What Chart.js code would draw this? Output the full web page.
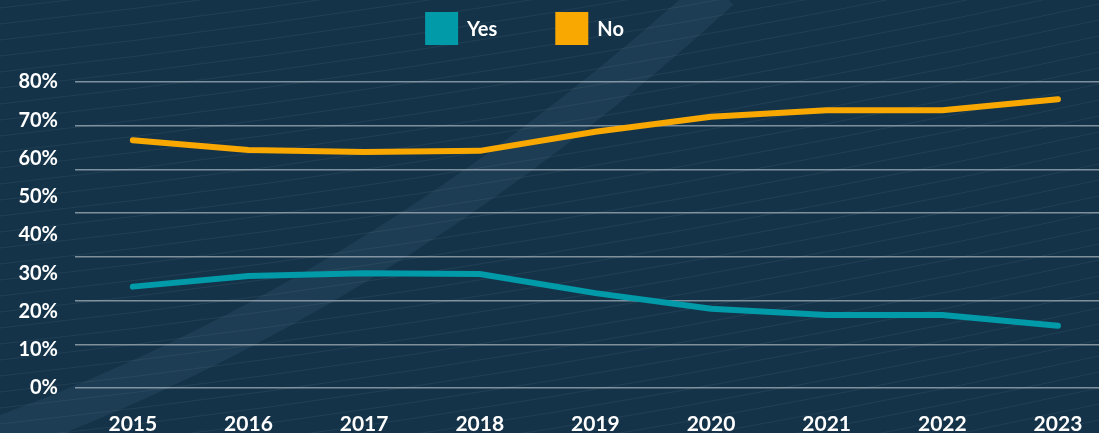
<!DOCTYPE html>
<html lang="en">
<head>
    <meta charset="UTF-8" />
    <title>Yes / No trend</title>
    <script src="https://cdn.jsdelivr.net/npm/chart.js"></script>
    <style>
        html, body { margin: 0; padding: 0; background: #143349; }
        .wrap { width: 1099px; height: 433px; }
    </style>
</head>
<body>

<div class="wrap">
    <canvas id="trend"></canvas>
</div>

<script>
// data
const years = [2015, 2016, 2017, 2018, 2019, 2020, 2021, 2022, 2023];
const yesValues = [26.5, 29.3, 30.0, 29.8, 24.8, 20.7, 19.1, 19.1, 16.3];
const noValues = [64.8, 62.2, 61.7, 62.0, 67.0, 70.9, 72.6, 72.6, 75.5];
const yTicks = [0, 10, 20, 30, 40, 50, 60, 70, 80];

const TEAL = "#009aa8";
const ORANGE = "#f8a800";
const FONT = "Lato, 'Open Sans', sans-serif";

// navy backdrop with a few faint mesh lines
const backdrop = {
    id: "backdrop",
    beforeDraw(chart) {
        const ctx = chart.ctx;
        const w = chart.width, h = chart.height;
        ctx.save();
        ctx.fillStyle = "#143349";
        ctx.fillRect(0, 0, w, h);

        ctx.strokeStyle = "rgba(255,255,255,0.06)";
        ctx.lineWidth = 1;
        for (let i = -20; i < 40; i++) {
            ctx.beginPath();
            ctx.moveTo(0, i * 16 + 40);
            ctx.quadraticCurveTo(w * 0.5, i * 16 - 20, w, i * 16 - 140);
            ctx.stroke();
        }

        // light diagonal band
        ctx.strokeStyle = "rgba(110,150,175,0.11)";
        ctx.lineWidth = 40;
        ctx.beginPath();
        ctx.moveTo(-10, 440);
        ctx.quadraticCurveTo(380, 300, 720, -10);
        ctx.stroke();
        ctx.restore();
    }
};

// square legend boxes at the top
const squareLegend = {
    id: "squareLegend",
    afterDraw(chart) {
        const ctx = chart.ctx;
        const box = 33, gap = 9, spacing = 58, top = 12;
        ctx.save();
        ctx.font = "bold 20px " + FONT;
        ctx.textBaseline = "middle";
        const sets = chart.data.datasets;
        const widths = sets.map(d => box + gap + ctx.measureText(d.label).width);
        const total = widths.reduce((a, b) => a + b, 0) + spacing * (sets.length - 1);
        let x = chart.width / 2 - 25 - total / 2;
        sets.forEach((d, i) => {
            ctx.fillStyle = d.borderColor;
            ctx.fillRect(x, top, box, box);
            ctx.fillStyle = "#ffffff";
            ctx.fillText(d.label, x + box + gap, top + box / 2 + 1);
            x += widths[i] + spacing;
        });
        ctx.restore();
    }
};

new Chart(document.getElementById("trend"), {
    type: "line",
    data: {
        datasets: [
            {
                label: "Yes",
                data: years.map((y, i) => ({ x: y, y: yesValues[i] })),
                borderColor: TEAL,
                backgroundColor: TEAL,
                borderWidth: 6,
                borderCapStyle: "round",
                borderJoinStyle: "round",
                pointRadius: 0,
                tension: 0
            },
            {
                label: "No",
                data: years.map((y, i) => ({ x: y, y: noValues[i] })),
                borderColor: ORANGE,
                backgroundColor: ORANGE,
                borderWidth: 6,
                borderCapStyle: "round",
                borderJoinStyle: "round",
                pointRadius: 0,
                tension: 0
            }
        ]
    },
    options: {
        responsive: true,
        maintainAspectRatio: false,
        animation: false,
        layout: { padding: { top: 82, left: 0, right: 0, bottom: 0 } },
        plugins: {
            legend: { display: false },
            tooltip: { enabled: false }
        },
        scales: {
            x: {
                type: "linear",
                min: 2014.5,
                max: 2023.355,
                grid: { display: false },
                border: { display: false },
                afterFit: s => { s.height = 45; },
                ticks: {
                    stepSize: 1,
                    includeBounds: false,
                    padding: 16,
                    color: "#ffffff",
                    font: { family: FONT, size: 21, weight: "bold" },
                    callback: v => String(v)
                }
            },
            y: {
                min: 0,
                max: 80,
                position: "left",
                grid: { display: false, drawTicks: false },
                border: { display: false },
                afterFit: s => { s.width = 75; },
                afterBuildTicks: s => { s.ticks = yTicks.map(v => ({ value: v })); },
                ticks: {
                    padding: 17,
                    color: "#ffffff",
                    font: { family: FONT, size: 20, weight: "bold" },
                    callback: v => v + "%"
                }
            },
            yGrid: {
                min: 0,
                max: 7,
                position: "left",
                afterFit: s => { s.width = 0; },
                border: { display: false },
                grid: {
                    color: "rgba(215,220,225,0.55)",
                    lineWidth: 1.5,
                    drawTicks: false
                },
                ticks: { display: false, stepSize: 1 }
            }
        }
    },
    plugins: [backdrop, squareLegend]
});
</script>

</body>
</html>
